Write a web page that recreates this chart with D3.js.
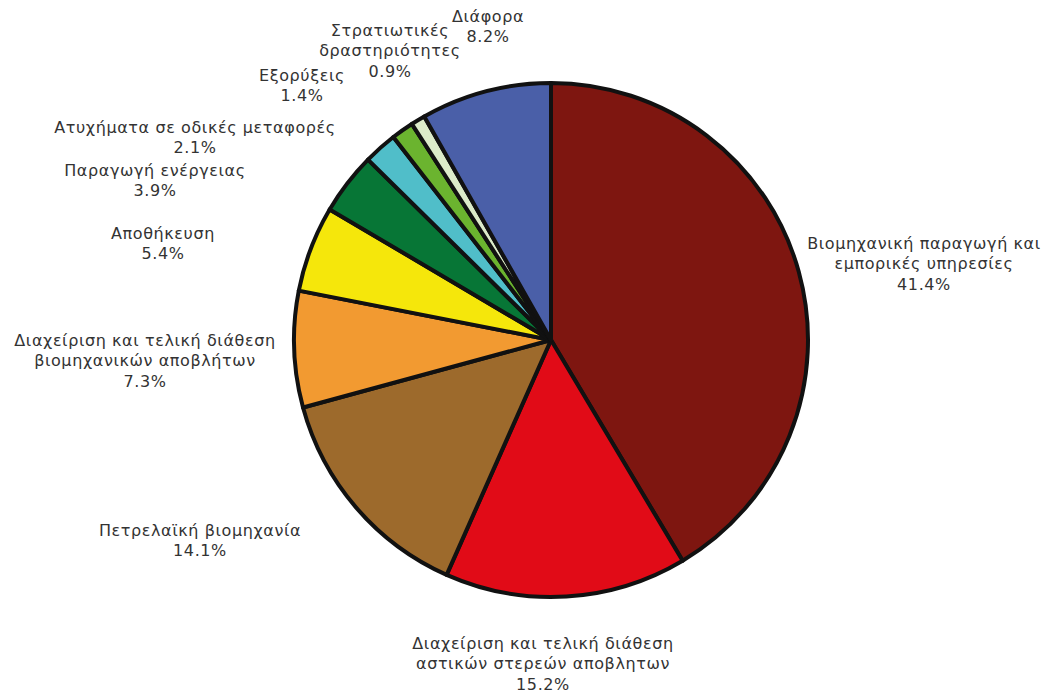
<!DOCTYPE html>
<html>
<head>
<meta charset="utf-8">
<script src="https://cdn.jsdelivr.net/npm/d3@7"></script>
<style>
  body { margin: 0; background: #fff; }
  svg text { font-family: "DejaVu Sans", Verdana, sans-serif; font-size: 16px; letter-spacing: 0.6px; fill: #333; }
</style>
</head>
<body>
<svg id="svg" width="1059" height="692"></svg>
<script>
// categories, clockwise from 12 o'clock
const categories = [
    ["Βιομηχανική παραγωγή και", "εμπορικές υπηρεσίες"],
    ["Διαχείριση και τελική διάθεση", "αστικών στερεών αποβλητων"],
    ["Πετρελαϊκή βιομηχανία"],
    ["Διαχείριση και τελική διάθεση", "βιομηχανικών αποβλήτων"],
    ["Αποθήκευση"],
    ["Παραγωγή ενέργειας"],
    ["Ατυχήματα σε οδικές μεταφορές"],
    ["Εξορύξεις"],
    ["Στρατιωτικές", "δραστηριότητες"],
    ["Διάφορα"]
];
const values = [41.4, 15.2, 14.1, 7.3, 5.4, 3.9, 2.1, 1.4, 0.9, 8.2];
const colors = ["#7e1610", "#e10b17", "#9d6a2c", "#f29a31", "#f5e70b", "#077636", "#50bec9", "#6bb42f", "#dcebc9", "#4a5fa8"];

// label centres (middle line), placed by hand like the original
const labelPos = [[924, 263], [543, 663], [200, 540], [145, 360], [163, 243], [155, 180], [195, 137], [302, 85], [390, 50], [488, 26]];

const svg = d3.select("#svg");
const cx = 551, cy = 340, radius = 257;
const lineH = 20.5;

const pie = d3.pie().sort(null).value(d => d);
const arc = d3.arc().innerRadius(0).outerRadius(radius);

const g = svg.append("g").attr("transform", `translate(${cx},${cy})`);

g.selectAll("path")
    .data(pie(values))
    .join("path")
    .attr("d", arc)
    .attr("fill", (d, i) => colors[i])
    .attr("stroke", "#111")
    .attr("stroke-width", 4)
    .attr("stroke-linejoin", "round");

// labels
categories.forEach((lines, i) => {
    const all = lines.concat([values[i].toFixed(1) + "%"]);
    const [x, y] = labelPos[i];
    const top = y - (all.length - 1) * lineH / 2;
    const t = svg.append("text")
        .attr("text-anchor", "middle")
        .attr("dominant-baseline", "central");
    all.forEach((s, j) => {
        t.append("tspan").attr("x", x).attr("y", top + j * lineH).text(s);
    });
});
</script>
</body>
</html>
